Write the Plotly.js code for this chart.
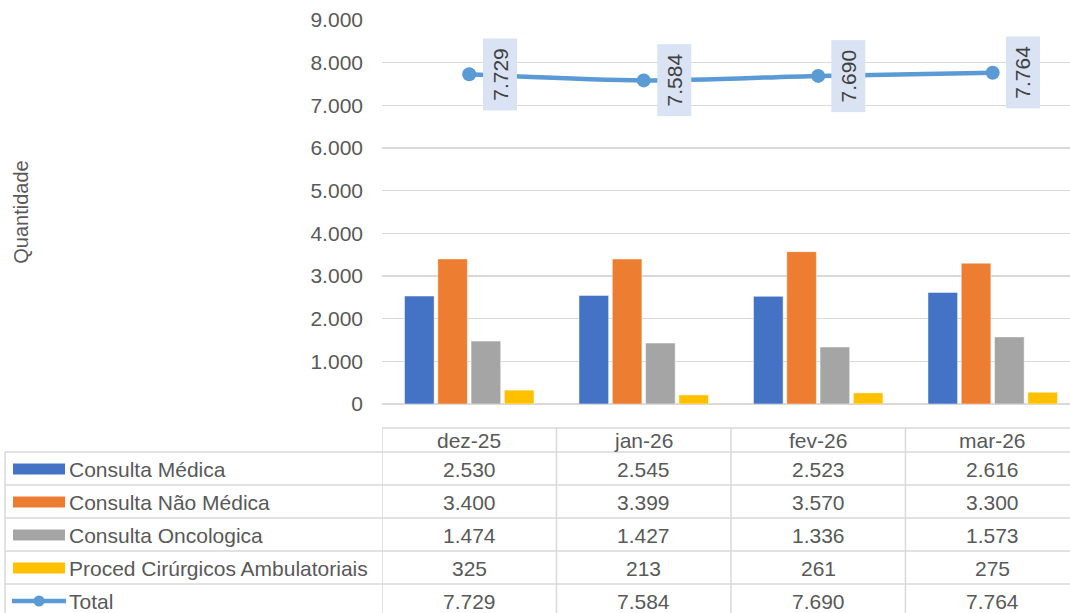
<!DOCTYPE html>
<html>
<head>
<meta charset="utf-8">
<script src="https://cdn.plot.ly/plotly-3.0.1.min.js"></script>
<style>
html,body{margin:0;padding:0;overflow:hidden;background:#fff;}
#chart{width:1070px;height:613px;}
</style>
</head>
<body>
<div id="chart"></div>
<script>
// ---- data ----
const categories = ["dez-25", "jan-26", "fev-26", "mar-26"];
const consultaMedica = [2530, 2545, 2523, 2616];
const consultaNaoMedica = [3400, 3399, 3570, 3300];
const consultaOncologica = [1474, 1427, 1336, 1573];
const procedCirurgicos = [325, 213, 261, 275];
const total = [7729, 7584, 7690, 7764];
const seriesNames = ["Consulta Médica", "Consulta Não Médica", "Consulta Oncologica", "Proced Cirúrgicos Ambulatoriais", "Total"];
const yTicks = [0, 1000, 2000, 3000, 4000, 5000, 6000, 7000, 8000, 9000];

// ---- styling ----
const colors = ["#4472C4", "#ED7D31", "#A5A5A5", "#FFC000", "#5B9BD5"];
const FONT = "Liberation Sans, Arial, sans-serif";
const TXT = "#595959";
const GRID = "#D9D9D9";
const W = 1070, H = 613;
const M = {l: 382, r: 0, t: 20, b: 209};
const plotW = W - M.l - M.r, plotH = H - M.t - M.b;
const px2x = p => (p - M.l) / plotW;        // paper x from pixel
const py2y = p => (H - M.b - p) / plotH;     // paper y from pixel

const fmt = n => String(n).replace(/\B(?=(\d{3})+(?!\d))/g, ".");

const barSeries = [consultaMedica, consultaNaoMedica, consultaOncologica, procedCirurgicos];
const traces = barSeries.map((vals, i) => ({
  type: "bar", x: categories, y: vals, name: seriesNames[i],
  marker: {color: colors[i], line: {color: "rgba(255,255,255,0.6)", width: 0.8}},
  hoverinfo: "y"
}));
traces.push({
  type: "scatter", mode: "lines+markers", x: categories, y: total, name: seriesNames[4],
  line: {color: colors[4], width: 4.5, shape: "spline", smoothing: 0.8},
  marker: {color: colors[4], size: 14}
});

const shapes = [];
const annotations = [];

// data labels of total
total.forEach((v, i) => {
  annotations.push({
    x: categories[i], y: v, xref: "x", yref: "y", text: "\u2009" + fmt(v) + "\u2009",
    showarrow: false, textangle: -90, xshift: 30.5, xanchor: "center", yanchor: "middle",
    bgcolor: "#DAE3F3", borderpad: 5,
    font: {family: FONT, size: 21, color: "#404040"}
  });
});

// ---- data table ----
const headerTop = 428, rowTops = [452, 485, 518, 551, 584], tableBottom = 617;
const lineStyle = {color: GRID, width: 1.5};
// header top line (from first category boundary to right)
shapes.push({type: "line", xref: "paper", yref: "paper", x0: 0, x1: 1.02,
  y0: py2y(headerTop), y1: py2y(headerTop), line: lineStyle});
// row lines
rowTops.forEach(t => shapes.push({type: "line", xref: "paper", yref: "paper",
  x0: px2x(5), x1: 1.02, y0: py2y(t), y1: py2y(t), line: lineStyle}));
// left border of legend column
shapes.push({type: "line", xref: "paper", yref: "paper", x0: px2x(5), x1: px2x(5),
  y0: py2y(rowTops[0]), y1: py2y(tableBottom), line: lineStyle});
// column boundaries at category edges
for (let k = 0; k < categories.length; k++) {
  shapes.push({type: "line", xref: "x", yref: "paper", x0: k - 0.5, x1: k - 0.5,
    y0: py2y(headerTop), y1: py2y(tableBottom), line: lineStyle});
}
// header text
categories.forEach((c, k) => annotations.push({
  x: c, xref: "x", y: py2y((headerTop + rowTops[0]) / 2 + 0.5), yref: "paper",
  xanchor: "center", yanchor: "middle",
  text: c, showarrow: false, font: {family: FONT, size: 21, color: TXT}
}));
// rows
const rowVals = [consultaMedica, consultaNaoMedica, consultaOncologica, procedCirurgicos, total];
rowVals.forEach((vals, r) => {
  const top = rowTops[r];
  const bottom = r + 1 < rowTops.length ? rowTops[r + 1] : tableBottom;
  const cy = (top + bottom) / 2 + 0.5;
  // legend label
  annotations.push({x: px2x(67), xref: "paper", xanchor: "left", yanchor: "middle", y: py2y(cy), yref: "paper",
    text: seriesNames[r], showarrow: false, font: {family: FONT, size: 21, color: TXT}});
  // legend key
  if (r < 4) {
    shapes.push({type: "rect", xref: "paper", yref: "paper", x0: px2x(13), x1: px2x(65),
      y0: py2y(cy - 5.5), y1: py2y(cy + 5.5), fillcolor: colors[r], line: {width: 0}});
  } else {
    shapes.push({type: "line", xref: "paper", yref: "paper", x0: px2x(12), x1: px2x(66),
      y0: py2y(cy), y1: py2y(cy), line: {color: colors[4], width: 4.5}});
    shapes.push({type: "circle", xref: "paper", yref: "paper", x0: px2x(33.5), x1: px2x(44.5),
      y0: py2y(cy - 5.5), y1: py2y(cy + 5.5), fillcolor: colors[4], line: {width: 0}});
  }
  vals.forEach((v, k) => annotations.push({
    x: categories[k], xref: "x", y: py2y(cy), yref: "paper", text: fmt(v),
    xanchor: "center", yanchor: "middle",
    showarrow: false, font: {family: FONT, size: 21, color: TXT}
  }));
});

const layout = {
  width: W, height: H,
  margin: M,
  paper_bgcolor: "#fff", plot_bgcolor: "#fff",
  separators: ",.",
  showlegend: false,
  barmode: "group", bargap: 0.237, bargroupgap: 0.11,
  font: {family: FONT, size: 21, color: TXT},
  xaxis: {type: "category", range: [-0.5, 3.443], showticklabels: false, showgrid: false,
    zeroline: false, showline: false, ticks: "", fixedrange: true},
  yaxis: {range: [0, 9000], tickvals: yTicks, tickformat: ",d", showgrid: true,
    gridcolor: GRID, gridwidth: 1.5, zeroline: true, zerolinecolor: GRID, zerolinewidth: 1.5,
    showline: false, ticks: "", ticklabelstandoff: 18,
    tickfont: {family: FONT, size: 21, color: TXT},
    title: {text: "Quantidade", font: {family: FONT, size: 20, color: TXT}, standoff: 276},
    automargin: true, fixedrange: true},
  shapes: shapes,
  annotations: annotations
};

Plotly.newPlot("chart", traces, layout, {displayModeBar: false, staticPlot: true});
</script>
</body>
</html>
